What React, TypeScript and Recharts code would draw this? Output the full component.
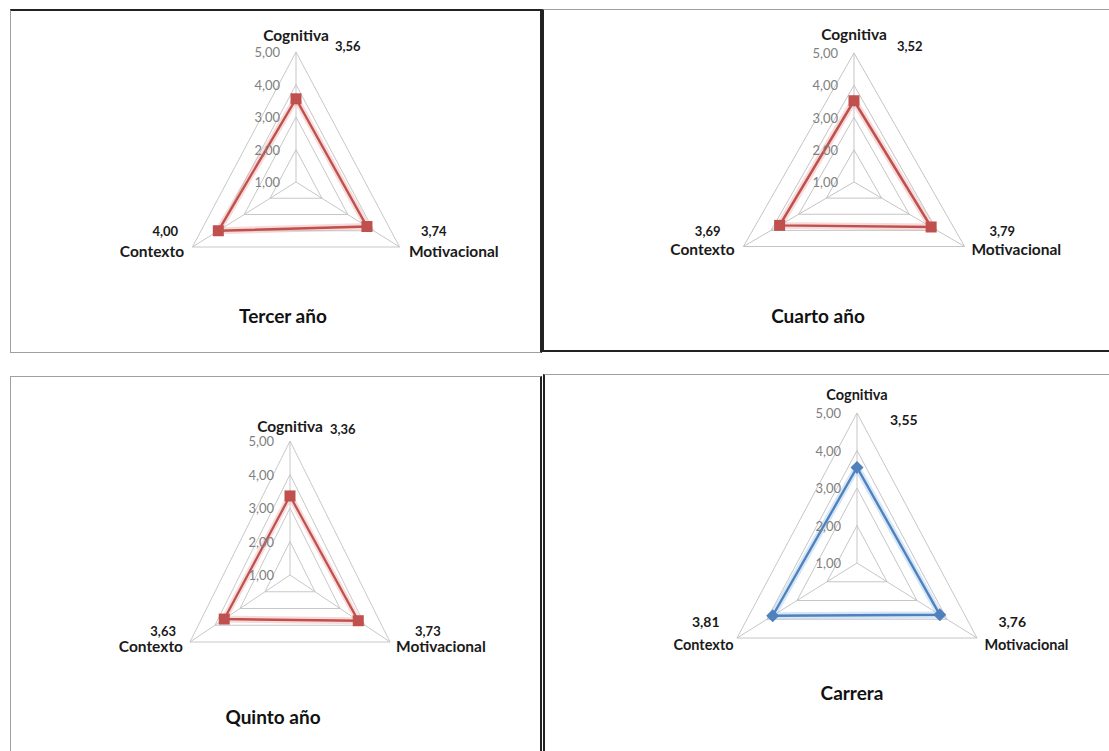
import React from "react";
import { RadarChart, Radar, PolarGrid, PolarAngleAxis, PolarRadiusAxis } from "recharts";

const categories = ["Cognitiva", "Motivacional", "Contexto"];
const tercerAno = [3.56, 3.74, 4.0];
const cuartoAno = [3.52, 3.79, 3.69];
const quintoAno = [3.36, 3.73, 3.63];
const carrera = [3.55, 3.76, 3.81];
const radiusTicks = [1, 2, 3, 4, 5];
const titles = ["Tercer año", "Cuarto año", "Quinto año", "Carrera"];

const FONT = "Lato, 'Open Sans', sans-serif";
const fmt = (v: number) => v.toFixed(2).replace(".", ",");

// label offsets in screen px from the angle-axis tick point
type LabelCfg = {
  catSize: number;
  valSize: number;
  topDy: number;
  topValDx: number;
  topValDy: number;
  leftDx: number;
  rightDx: number;
  sideDy: number;
  leftValDx: number;
  rightValDx: number;
  sideValDy: number;
};

const labels1: LabelCfg = {
  catSize: 15.5, valSize: 13, topDy: -9, topValDx: 39, topValDy: 2,
  leftDx: -2, rightDx: 3, sideDy: 0, leftValDx: -8, rightValDx: 15, sideValDy: -20,
};
const labels2: LabelCfg = {
  catSize: 15.5, valSize: 13, topDy: -11, topValDx: 43, topValDy: 1,
  leftDx: -2, rightDx: 0, sideDy: -2, leftValDx: -16, rightValDx: 18, sideValDy: -20,
};
const labels3: LabelCfg = {
  catSize: 15.5, valSize: 13, topDy: -7, topValDx: 40, topValDy: -4,
  leftDx: -1, rightDx: 0, sideDy: 0, leftValDx: -8, rightValDx: 19, sideValDy: -15,
};
const labels4: LabelCfg = {
  catSize: 14.5, valSize: 14, topDy: -11, topValDx: 33, topValDy: 14,
  leftDx: 3, rightDx: 1, sideDy: 2, leftValDx: -11, rightValDx: 15, sideValDy: -21,
};

function angleTick(values: number[], cfg: LabelCfg, sx: number) {
  return (props: any) => {
    const { x, y, payload } = props;
    const i = categories.indexOf(payload.value);
    const common = { fontFamily: FONT, fontWeight: 700, fill: "#1a1a1a", dominantBaseline: "central" as const };
    const at = (dx: number, dy: number) => `translate(${x + dx / sx},${y + dy}) scale(${1 / sx},1)`;
    if (i === 0) {
      return (
        <g>
          <text {...common} transform={at(0, cfg.topDy)} textAnchor="middle" fontSize={cfg.catSize}>{payload.value}</text>
          <text {...common} transform={at(cfg.topValDx, cfg.topValDy)} textAnchor="start" fontSize={cfg.valSize}>{fmt(values[i])}</text>
        </g>
      );
    }
    const left = i === 2;
    return (
      <g>
        <text {...common} transform={at(left ? cfg.leftDx : cfg.rightDx, cfg.sideDy)} textAnchor={left ? "end" : "start"} fontSize={cfg.catSize}>{payload.value}</text>
        <text {...common} transform={at(left ? cfg.leftValDx : cfg.rightValDx, cfg.sideValDy)} textAnchor={left ? "end" : "start"} fontSize={cfg.valSize}>{fmt(values[i])}</text>
      </g>
    );
  };
}

const radiusTick = (sx: number) => (props: any) => {
  const { x, y, payload } = props;
  return (
    <text transform={`translate(${x - 16 / sx},${y}) scale(${1 / sx},1)`} dominantBaseline="central" textAnchor="end" fontFamily={FONT} fontSize={13} fill="#808080">
      {fmt(payload.value)}
    </text>
  );
};

const squareDot = (color: string, sx: number) => (p: any) => (
  <rect key={`s-${p.index}`} x={p.cx - 5.5 / sx} y={p.cy - 5.5} width={11 / sx} height={11} fill={color} />
);
const diamondDot = (color: string, sx: number) => (p: any) => (
  <path key={`d-${p.index}`} d={`M${p.cx},${p.cy - 6.5}L${p.cx + 6.5 / sx},${p.cy}L${p.cx},${p.cy + 6.5}L${p.cx - 6.5 / sx},${p.cy}Z`} fill={color} />
);

type PanelProps = {
  values: number[];
  title: string;
  box: { left: number; top: number; width: number; height: number };
  borders: React.CSSProperties;
  cx: number;
  cy: number;
  r: number;
  sx: number;
  color: string;
  halo: string;
  dot: "square" | "diamond";
  labels: LabelCfg;
  titleTop: number;
  titleX: number;
  titleSize: number;
};

function Panel(p: PanelProps) {
  const data = categories.map((c, i) => ({ name: c, value: p.values[i] }));
  return (
    <div style={{ position: "absolute", left: p.box.left, top: p.box.top, width: p.box.width, height: p.box.height, boxSizing: "border-box", ...p.borders }}>
      <div style={{ position: "absolute", left: 0, top: 0, transform: `scaleX(${p.sx})`, transformOrigin: `${p.cx}px 0px` }}>
        <RadarChart width={p.box.width - 4} height={p.box.height - 4} data={data} cx={p.cx} cy={p.cy} outerRadius={p.r} margin={{ top: 0, right: 0, bottom: 0, left: 0 }}>
          <PolarGrid gridType="polygon" stroke="#c4c4c4" strokeWidth={1} />
          <PolarAngleAxis dataKey="name" tickSize={0} tickLine={false} axisLine={false} tick={angleTick(p.values, p.labels, p.sx)} />
          <PolarRadiusAxis angle={90} domain={[1, 5]} ticks={radiusTicks} tickCount={5} axisLine={false} tickLine={false} tick={radiusTick(p.sx)} />
          <Radar dataKey="value" stroke={p.halo} strokeWidth={7} fill="none" fillOpacity={0} dot={false} isAnimationActive={false} />
          <Radar dataKey="value" stroke={p.color} strokeWidth={2.5} fill="none" fillOpacity={0}
            dot={p.dot === "square" ? squareDot(p.color, p.sx) : diamondDot(p.color, p.sx)} isAnimationActive={false} />
        </RadarChart>
      </div>
      <div style={{ position: "absolute", left: p.titleX - 100, width: 200, top: p.titleTop, textAlign: "center", fontFamily: FONT, fontWeight: 700, fontSize: p.titleSize, color: "#111" }}>
        {p.title}
      </div>
    </div>
  );
}

const dark = "2px solid #222";
const light = "1px solid #a0a0a0";
const redHalo = "rgba(232,150,150,0.35)";

export default function App() {
  return (
    <div style={{ position: "absolute", left: 0, top: 0, width: 1109, height: 751, background: "#fff", overflow: "hidden" }}>
      <Panel values={tercerAno} title={titles[0]} box={{ left: 10, top: 9, width: 532, height: 344 }}
        borders={{ borderTop: dark, borderLeft: light, borderBottom: light, borderRight: dark }}
        cx={285} cy={171} r={130} sx={0.92} color="#C0504D" halo={redHalo} dot="square" labels={labels1}
        titleTop={293} titleX={272} titleSize={19} />
      <Panel values={cuartoAno} title={titles[1]} box={{ left: 542, top: 9, width: 567, height: 343 }}
        borders={{ borderTop: light, borderLeft: dark, borderBottom: dark }}
        cx={310} cy={172} r={129} sx={0.99} color="#C0504D" halo={redHalo} dot="square" labels={labels2}
        titleTop={294} titleX={274} titleSize={19} />
      <Panel values={quintoAno} title={titles[2]} box={{ left: 10, top: 376, width: 532, height: 380 }}
        borders={{ borderTop: light, borderLeft: light, borderRight: dark }}
        cx={279} cy={198} r={134} sx={0.862} color="#C0504D" halo={redHalo} dot="square" labels={labels3}
        titleTop={328} titleX={262} titleSize={19} />
      <Panel values={carrera} title={titles[3]} box={{ left: 543, top: 374, width: 570, height: 380 }}
        borders={{ borderTop: light, borderLeft: dark }}
        cx={312} cy={188} r={150} sx={0.924} color="#4F81BD" halo="rgba(160,200,240,0.45)" dot="diamond" labels={labels4}
        titleTop={306} titleX={307} titleSize={19} />
    </div>
  );
}
